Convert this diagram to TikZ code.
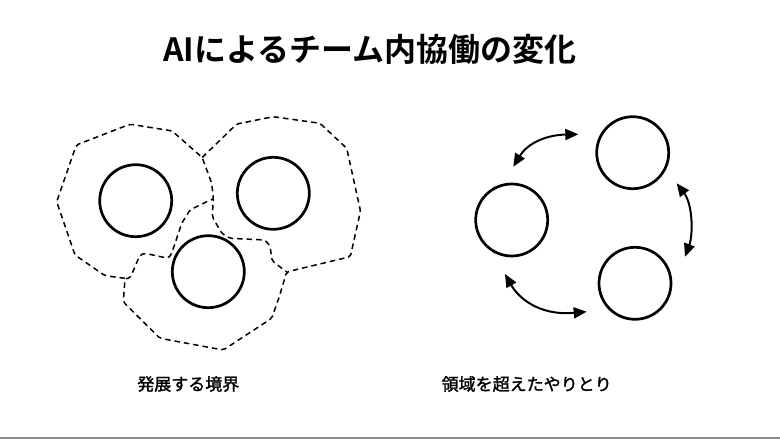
\documentclass[tikz,border=0pt]{standalone}
\usepackage{fontspec}
\newfontfamily\cjk[FakeBold=1.6]{Noto Sans CJK JP}
\newfontfamily\cjkb{Noto Sans CJK JP Bold}
\usetikzlibrary{arrows.meta}
\tikzset{
  member/.style={circle, draw=black, line width=2.7pt, minimum size=72pt, inner sep=0pt},
  boundary/.style={draw=black, line width=1.5pt, dash pattern=on 5.5pt off 4pt, rounded corners=2pt},
  exchange/.style={draw=black, line width=2pt, {Triangle[length=13pt,width=11pt]}-{Triangle[length=13pt,width=11pt]}},
  caption/.style={font=\cjk\fontsize{17pt}{20pt}\selectfont, inner sep=0pt},
}
\begin{document}
\begin{tikzpicture}[x=1pt,y=-1pt]
\useasboundingbox (0,0) rectangle (780,439);
\fill[white] (0,0) rectangle (780,439);
\draw[gray!90, line width=1.5pt] (0,438.2) -- (780,438.2);

\node[font=\cjkb\fontsize{32pt}{36pt}\selectfont, inner sep=0pt] (title) at (370,49) {AIによるチーム内協働の変化};

% left: dashed boundaries
\draw[boundary] (125,278.3) -- (105,275.7) -- (75,255) -- (56.7,201.7) -- (76.3,145) -- (130,124.2) -- (172,130.9) -- (202.2,157.5)
  -- (211.7,183.3) -- (213.3,198) -- (212.3,216.7) -- (221.7,233.3) -- (230,238.3) -- (265,240) -- (270,246) -- (272.2,261) -- (286.7,271.9);
\draw[boundary] (202.2,157.5) -- (236.7,124) -- (273.3,116.7) -- (320,123.3) -- (346.7,148.3) -- (360.5,211) -- (350.3,256.7) -- (286.7,271.9)
  -- (279.3,296.7) -- (271.7,318.3) -- (223.3,350) -- (160,338.3) -- (123.3,302) -- (125,278.3) -- (130,278.3) -- (140,255) -- (145,253.3) -- (168.3,258.3) -- (171.7,253.3) -- (181.7,223.3) -- (190,210) -- (206.7,201.7) -- (213.1,199);

\node[member] (a) at (135.7,200.7) {};
\node[member] (b) at (273.3,193.3) {};
\node[member] (c) at (208.3,271.7) {};

% right
\node[member] (t) at (632.7,152.7) {};
\node[member] (l) at (511.7,220) {};
\node[member] (r) at (635,283.3) {};

\coordinate (e1) at (513.3,166.7);
\coordinate (e2) at (578.3,134.3);
\coordinate (e3) at (676.7,183.3);
\coordinate (e4) at (685,256.7);
\coordinate (e5) at (505,274);
\coordinate (e6) at (586.7,311.7);
\draw[exchange] (e1) .. controls (527,144) and (545,135) .. (e2);
\draw[exchange] (e3) .. controls (693,205) and (693,235) .. (e4);
\draw[exchange] (e5) .. controls (518,297) and (538,316) .. (e6);

\node[caption] (lc) at (188.3,384) {発展する境界};
\node[caption] (rc) at (526.7,384) {領域を超えたやりとり};
\end{tikzpicture}
\end{document}
